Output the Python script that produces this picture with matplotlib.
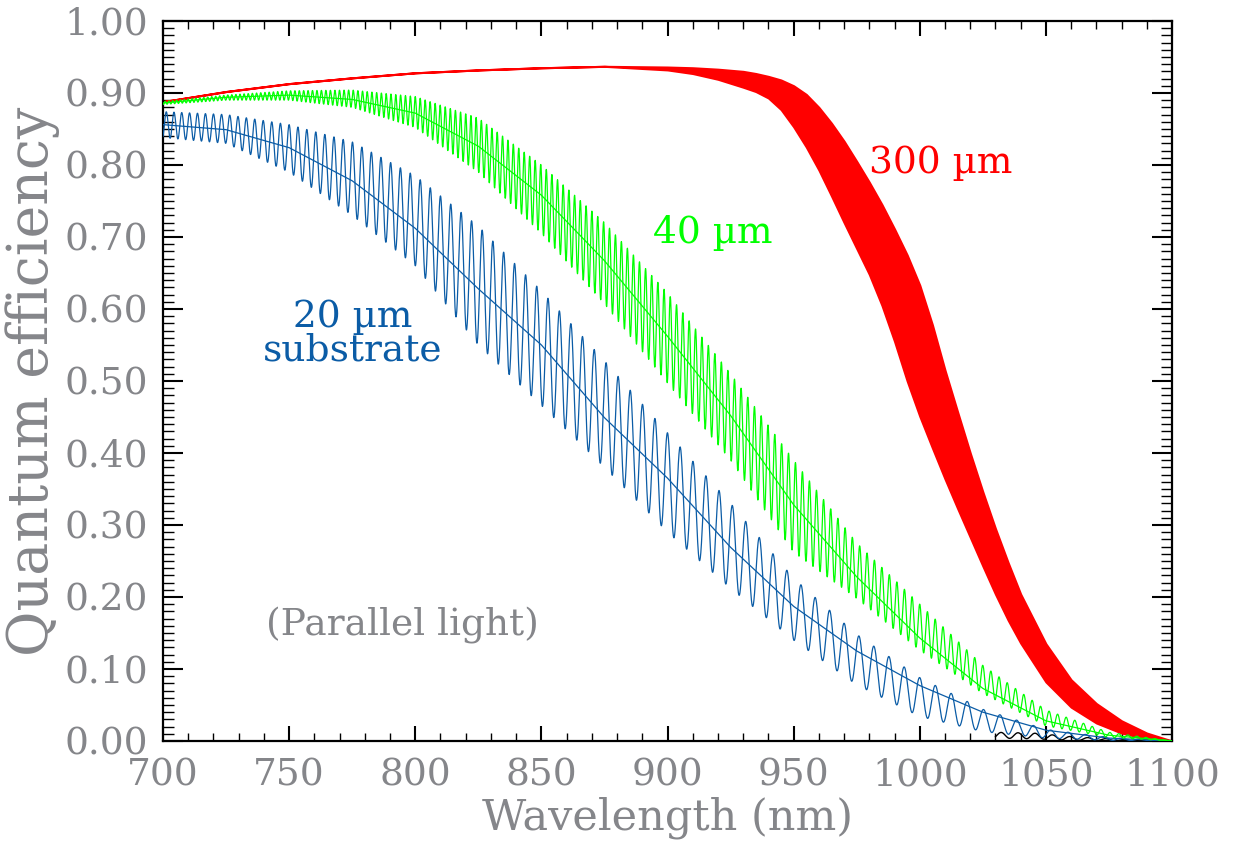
import numpy as np
import matplotlib.pyplot as plt
from matplotlib.ticker import MultipleLocator

plt.rcParams['font.family'] = ['DejaVu Serif']

# wezly co 25 nm
wl = [700, 725, 750, 775, 800, 825, 850, 875, 900, 925, 950, 975, 1000, 1025, 1050, 1075, 1100]

# 20 um
blue_mean = [0.856, 0.849, 0.824, 0.778, 0.712, 0.628, 0.550, 0.449, 0.365, 0.269, 0.187, 0.125, 0.077, 0.040, 0.015, 0.004, 0.0]
blue_hi = [0.874, 0.870, 0.856, 0.832, 0.785, 0.715, 0.625, 0.528, 0.428, 0.330, 0.226, 0.148, 0.088, 0.044, 0.016, 0.005, 0.0]
blue_lo = [0.838, 0.830, 0.790, 0.730, 0.660, 0.550, 0.466, 0.380, 0.290, 0.212, 0.140, 0.078, 0.034, 0.013, 0.004, 0.001, 0.0]

# 40 um
green_mean = [0.886, 0.894, 0.897, 0.891, 0.872, 0.826, 0.758, 0.667, 0.562, 0.452, 0.328, 0.228, 0.143, 0.073, 0.028, 0.008, 0.0]
green_hi = [0.888, 0.897, 0.903, 0.904, 0.895, 0.865, 0.800, 0.720, 0.622, 0.510, 0.390, 0.275, 0.190, 0.105, 0.043, 0.012, 0.0]
green_lo = [0.884, 0.890, 0.890, 0.880, 0.852, 0.790, 0.705, 0.607, 0.497, 0.390, 0.262, 0.198, 0.126, 0.066, 0.021, 0.005, 0.0]

# 300 um - prazki zlewaja sie w pas
red_wl = [700, 725, 750, 775, 800, 825, 850, 875, 900, 910, 920, 930, 935, 940, 945, 950, 955, 960, 965,
          970, 975, 980, 985, 990, 995, 1000, 1005, 1010, 1015, 1020, 1025, 1030, 1035, 1040, 1050, 1060,
          1070, 1080, 1090, 1100]
red_hi = [0.888, 0.902, 0.913, 0.921, 0.928, 0.932, 0.935, 0.937, 0.936, 0.935, 0.933, 0.930, 0.927, 0.923,
          0.918, 0.910, 0.898, 0.880, 0.858, 0.833, 0.805, 0.776, 0.745, 0.711, 0.675, 0.633, 0.578, 0.515,
          0.457, 0.400, 0.346, 0.295, 0.248, 0.204, 0.135, 0.085, 0.052, 0.028, 0.011, 0.0]
red_lo = [0.888, 0.902, 0.913, 0.921, 0.928, 0.932, 0.935, 0.937, 0.932, 0.927, 0.919, 0.908, 0.902, 0.893,
          0.877, 0.853, 0.825, 0.793, 0.757, 0.720, 0.684, 0.648, 0.605, 0.555, 0.500, 0.451, 0.407, 0.364,
          0.323, 0.283, 0.243, 0.204, 0.168, 0.136, 0.082, 0.047, 0.025, 0.011, 0.003, 0.0]

# kawalek czarnej krzywej widoczny przy dnie
black_wl = [1030, 1045, 1060, 1080, 1100]
black_hi = [0.012, 0.011, 0.006, 0.002, 0.0]
black_lo = [0.004, 0.003, 0.001, 0.0, 0.0]

# droga optyczna 2nd [um] z odstepu prazkow
opd_blue = 162.0
opd_green = 328.0

def prazki(w, hi, lo, opd, start=700):
    x = np.arange(start, 1100.001, 0.05)
    g = np.interp(x, w, hi)
    d = np.interp(x, w, lo)
    return x, d + (g - d) * 0.5 * (1 + np.cos(2 * np.pi * opd * 1000 / x))

blue = '#0b5ca6'
green = '#00ff00'
red = '#ff0000'
gray = '#85868a'

fig = plt.figure(figsize=(12.35, 8.59), dpi=100)
ax = fig.add_axes([0.132, 0.1374, 0.817, 0.8382])

ax.fill_between(red_wl, red_lo, red_hi, color=red, lw=1.5, zorder=2)
x, y = prazki(black_wl, black_hi, black_lo, 160.0, start=1030)
ax.plot(x, y, color='black', lw=1.0, zorder=2)
x, y = prazki(wl, blue_hi, blue_lo, opd_blue)
ax.plot(x, y, color=blue, lw=0.9, zorder=3)
ax.plot(wl, blue_mean, color=blue, lw=0.9, zorder=3)
x, y = prazki(wl, green_hi, green_lo, opd_green)
ax.plot(x, y, color=green, lw=0.9, zorder=4)
ax.plot(wl, green_mean, color=green, lw=0.9, zorder=4)

ax.set_xlim(700, 1100)
ax.set_ylim(0, 1)
ax.xaxis.set_major_locator(MultipleLocator(50))
ax.xaxis.set_minor_locator(MultipleLocator(10))
ax.yaxis.set_major_locator(MultipleLocator(0.1))
ax.yaxis.set_minor_locator(MultipleLocator(0.01))
ax.yaxis.set_major_formatter(lambda v, p: f'{v:.2f}')
ax.tick_params(which='both', direction='in', top=True, right=True, colors='black', labelcolor=gray, labelsize=27)
ax.tick_params(axis='x', which='major', length=11, width=1.5, pad=12)
ax.tick_params(axis='x', which='minor', length=5.5, width=1.0)
ax.tick_params(axis='y', which='major', length=14.5, width=1.5, pad=11)
ax.tick_params(axis='y', which='minor', length=8, width=1.0)
for s in ax.spines.values():
    s.set_linewidth(1.6)

ax.set_xlabel('Wavelength (nm)', fontsize=31, color=gray, labelpad=2)
ax.set_ylabel('Quantum efficiency', fontsize=40, color=gray, labelpad=3)

ax.text(1008.4, 0.789, '300 µm', color=red, fontsize=27, ha='center', va='baseline')
ax.text(918, 0.692, '40 µm', color=green, fontsize=27, ha='center', va='baseline')
ax.text(775, 0.566, '20 µm\nsubstrate', color=blue, fontsize=27, ha='center', va='center',
        multialignment='center', linespacing=0.92)
ax.text(795, 0.146, '(Parallel light)', color=gray, fontsize=27, ha='center', va='baseline')

plt.savefig('out.png', dpi=100)
plt.close()
